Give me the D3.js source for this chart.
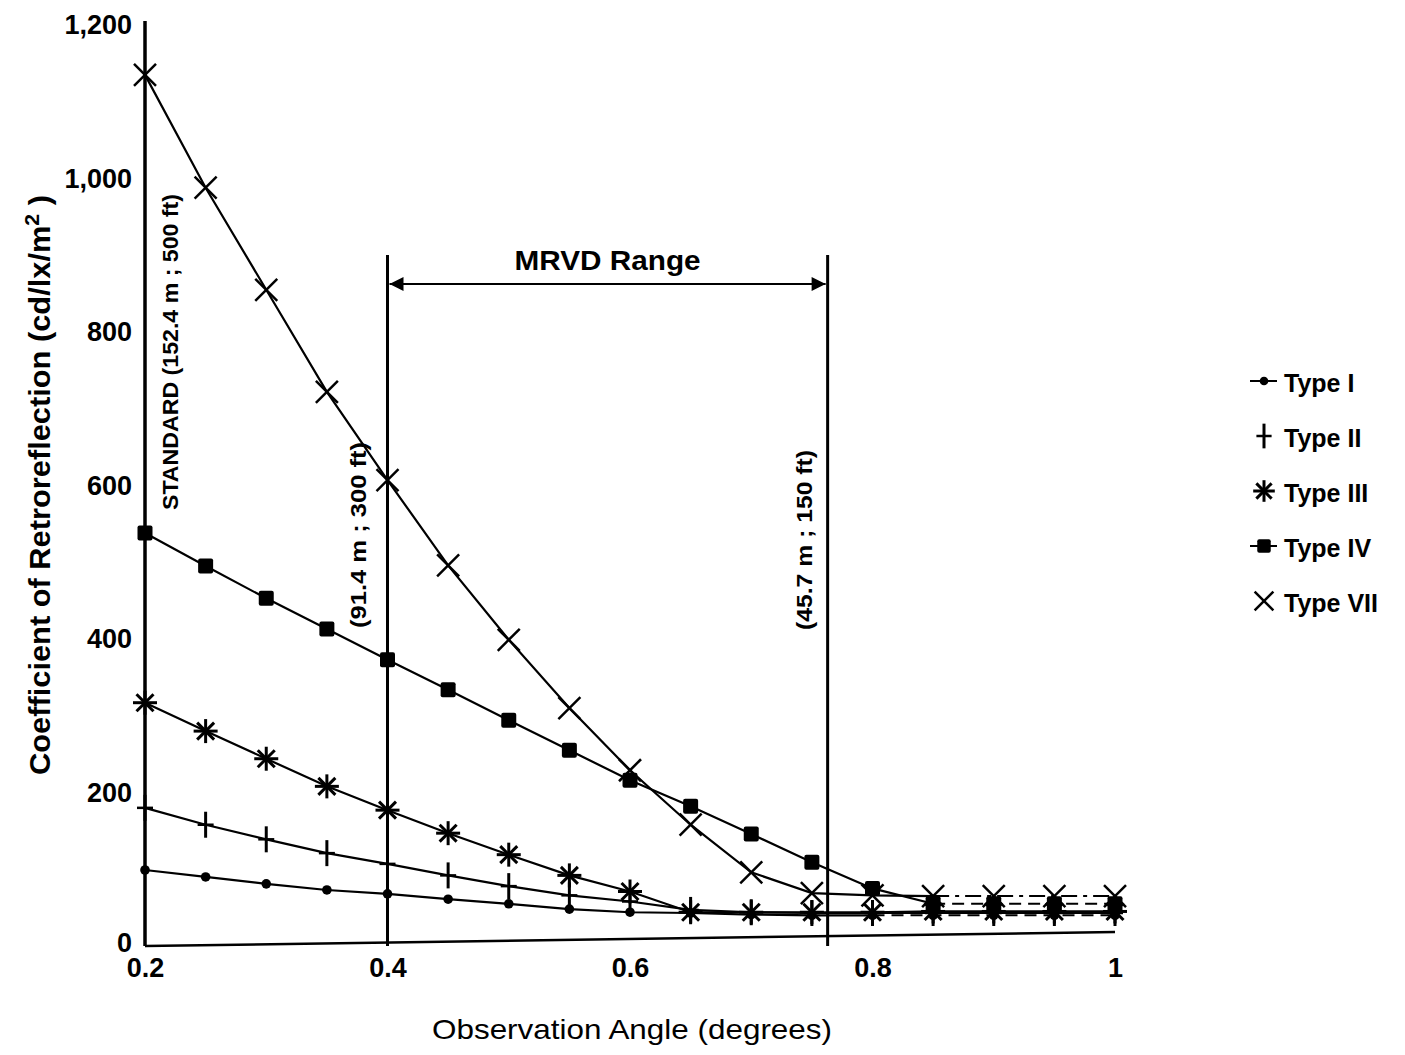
<!DOCTYPE html>
<html><head><meta charset="utf-8">
<script src="https://cdn.jsdelivr.net/npm/d3@7"></script>
<style>
html,body{margin:0;padding:0;background:#fff;}
svg{display:block;}
text{fill:#000;font-family:"Liberation Sans",Arial,Helvetica,sans-serif;}
</style></head>
<body>
<svg id="chart" width="1405" height="1055"></svg>
<script>
// ---- data ----
const angles = [0.2,0.25,0.3,0.35,0.4,0.45,0.5,0.55,0.6,0.65,0.7,0.75,0.8,0.85,0.9,0.95,1.0];
const typeI   = [99, 90, 81, 73, 68, 61, 55, 48, 44, 43, 41, 40, 40, 40, 40, 40, 40];
const typeII  = [180,158,139,121,107, 92, 78, 66, 58, 47, 44, 43, 43, 43, 43, 43, 43];
const typeIII = [317,280,244,208,177,147,119, 92, 71, 44, 44, 44, 44, 45, 45, 45, 45];
const typeIV  = [538,495,453,413,373,334,294,255,216,182,146,109, 75, 55, 55, 55, 55];
const typeVII = [1135,988,855,722,607,496,399,310,229,158, 96, 69, 66, 65, 65, 65, 65];
const seriesNames = ["Type I","Type II","Type III","Type IV","Type VII"];
const yTicks = [0,200,400,600,800,1000,1200];
const yTickLabels = ["0","200","400","600","800","1,000","1,200"];
const xTicks = [0.2,0.4,0.6,0.8,1.0];
const xTickLabels = ["0.2","0.4","0.6","0.8","1"];
const refLines = [0.4, 0.763];
const refLabels = ["STANDARD (152.4 m ; 500 ft)","(91.4 m ; 300 ft)","(45.7 m ; 150 ft)"];

// ---- layout ----
const svg = d3.select("#chart");
const x = d3.scaleLinear().domain([0.2,1.0]).range([145,1115]);
const y = d3.scaleLinear().domain([0,1200]).range([946,25]);

const series = [
  {name:seriesNames[0], vals:typeI,   marker:"dot",    dashFrom:12},
  {name:seriesNames[1], vals:typeII,  marker:"plus",   dashFrom:99},
  {name:seriesNames[2], vals:typeIII, marker:"star",   dashFrom:99},
  {name:seriesNames[3], vals:typeIV,  marker:"square", dashFrom:13},
  {name:seriesNames[4], vals:typeVII, marker:"cross",  dashFrom:13}
];

// axes
svg.append("line").attr("x1",x(0.2)).attr("x2",x(0.2)).attr("y1",y(0)).attr("y2",y(1200)-4)
  .attr("stroke","#000").attr("stroke-width",3.5);
svg.append("line").attr("x1",x(0.2)).attr("x2",x(1.0)).attr("y1",y(0)).attr("y2",y(0)-14)
  .attr("stroke","#000").attr("stroke-width",2.5);

const yAxis = d3.axisLeft(y).tickValues(yTicks).tickFormat((d,i)=>yTickLabels[i]).tickSize(0).tickPadding(13);
const gy = svg.append("g").attr("transform",`translate(${x(0.2)},0)`).call(yAxis);
gy.select(".domain").remove();
gy.selectAll("text").attr("font-size",27).attr("font-weight","bold")
  .attr("font-family","'Liberation Sans',Arial,sans-serif").attr("fill","#000");
gy.selectAll(".tick").filter(d=>d===0).select("text").attr("dy","0.2em");

const xAxis = d3.axisBottom(x).tickValues(xTicks).tickFormat((d,i)=>xTickLabels[i]).tickSize(0).tickPadding(12);
const gx = svg.append("g").attr("transform",`translate(0,${y(0)})`).call(xAxis);
gx.select(".domain").remove();
gx.selectAll("text").attr("font-size",27).attr("font-weight","bold")
  .attr("font-family","'Liberation Sans',Arial,sans-serif").attr("fill","#000");

// reference vertical lines
refLines.forEach(v=>{
  svg.append("line").attr("x1",x(v)).attr("x2",x(v)).attr("y1",255).attr("y2",y(0))
    .attr("stroke","#000").attr("stroke-width",3);
});
// MRVD arrow
const defs = svg.append("defs");
defs.append("marker").attr("id","arr").attr("viewBox","0 0 10 10").attr("refX",10).attr("refY",5)
  .attr("markerWidth",15).attr("markerHeight",14).attr("markerUnits","userSpaceOnUse").attr("orient","auto-start-reverse")
  .append("path").attr("d","M0,0L10,5L0,10Z").attr("fill","#000");
svg.append("line").attr("x1",x(refLines[0])+2).attr("x2",x(refLines[1])-2).attr("y1",284).attr("y2",284)
  .attr("stroke","#000").attr("stroke-width",2)
  .attr("marker-start","url(#arr)").attr("marker-end","url(#arr)");
svg.append("text").attr("x",(x(refLines[0])+x(refLines[1]))/2).attr("y",270)
  .attr("text-anchor","middle").attr("font-size",28).attr("font-weight","bold")
  .attr("textLength",186).attr("lengthAdjust","spacingAndGlyphs").text("MRVD Range");

// rotated annotations
const ann = [
  {t:refLabels[0], cx:x(0.2)+25, cy:352, len:316},
  {t:refLabels[1], cx:x(refLines[0])-29, cy:535, len:186},
  {t:refLabels[2], cx:x(refLines[1])-24, cy:540, len:180}
];
ann.forEach(a=>{
  svg.append("text").attr("transform",`translate(${a.cx},${a.cy}) rotate(-90)`)
    .attr("text-anchor","middle").attr("dy","0.36em").attr("font-size",22).attr("font-weight","bold")
    .attr("textLength",a.len).attr("lengthAdjust","spacingAndGlyphs").text(a.t);
});

// axis titles
const yt = svg.append("text").attr("transform","translate(40,485) rotate(-90)")
  .attr("text-anchor","middle").attr("dy","0.36em").attr("font-size",29).attr("font-weight","bold")
  .attr("textLength",580).attr("lengthAdjust","spacingAndGlyphs");
yt.append("tspan").text("Coefficient of Retroreflection (cd/lx/m");
yt.append("tspan").attr("dy",-11).attr("font-size",20).text("2");
yt.append("tspan").attr("dy",11).text(" )");

svg.append("text").attr("x",632).attr("y",1039).attr("text-anchor","middle")
  .attr("font-size",28).attr("textLength",400).attr("lengthAdjust","spacingAndGlyphs")
  .text("Observation Angle (degrees)");

// marker drawing
function drawMarker(g, type, cx, cy, scale){
  const s = scale||1;
  if(type==="dot"){
    g.append("circle").attr("cx",cx).attr("cy",cy).attr("r",4.8*s).attr("fill","#000");
  } else if(type==="plus"){
    g.append("line").attr("x1",cx).attr("x2",cx).attr("y1",cy-13*s).attr("y2",cy+13*s).attr("stroke","#000").attr("stroke-width",3);
    g.append("line").attr("x1",cx-8*s).attr("x2",cx+8*s).attr("y1",cy).attr("y2",cy).attr("stroke","#000").attr("stroke-width",2.5);
  } else if(type==="star"){
    const r=12*s;
    [0,45,90,135].forEach(a=>{
      const rad=a*Math.PI/180, dx=Math.cos(rad)*r, dy=Math.sin(rad)*r;
      g.append("line").attr("x1",cx-dx).attr("x2",cx+dx).attr("y1",cy-dy).attr("y2",cy+dy)
        .attr("stroke","#000").attr("stroke-width",3);
    });
  } else if(type==="square"){
    const h=7.5*s;
    g.append("rect").attr("x",cx-h).attr("y",cy-h).attr("width",2*h).attr("height",2*h).attr("rx",2).attr("fill","#000");
  } else if(type==="cross"){
    const r=11*s;
    g.append("line").attr("x1",cx-r).attr("x2",cx+r).attr("y1",cy-r).attr("y2",cy+r).attr("stroke","#000").attr("stroke-width",2.5);
    g.append("line").attr("x1",cx-r).attr("x2",cx+r).attr("y1",cy+r).attr("y2",cy-r).attr("stroke","#000").attr("stroke-width",2.5);
  }
}

// lines + markers
const line = d3.line().x(d=>x(d[0])).y(d=>y(d[1]));
series.forEach(s=>{
  const pts = angles.map((a,i)=>[a,s.vals[i]]);
  const solid = pts.slice(0, Math.min(s.dashFrom+1, pts.length));
  svg.append("path").attr("d",line(solid)).attr("fill","none").attr("stroke","#000").attr("stroke-width",2.2);
  if(s.dashFrom < pts.length-1){
    const dashed = pts.slice(s.dashFrom);
    svg.append("path").attr("d",line(dashed)).attr("fill","none").attr("stroke","#000").attr("stroke-width",2)
      .attr("stroke-dasharray", s.marker==="cross" ? "16,6,4,6" : "12,7");
  }
});
series.forEach(s=>{
  const g = svg.append("g");
  angles.forEach((a,i)=>drawMarker(g, s.marker, x(a), y(s.vals[i])));
});

// legend
const legY = [383,438,493,548,603];
series.forEach((s,i)=>{
  const g = svg.append("g");
  const cy = legY[i];
  if(s.marker==="dot" || s.marker==="square"){
    g.append("line").attr("x1",1250).attr("x2",1277).attr("y1",cy-2).attr("y2",cy-2).attr("stroke","#000").attr("stroke-width",2);
  }
  drawMarker(g, s.marker, 1264, cy-2, s.marker==="cross"?0.85:(s.marker==="plus"?0.95:0.9));
  g.append("text").attr("x",1284).attr("y",cy+9).attr("font-size",25).attr("font-weight","bold").text(s.name);
});
</script>
</body></html>
